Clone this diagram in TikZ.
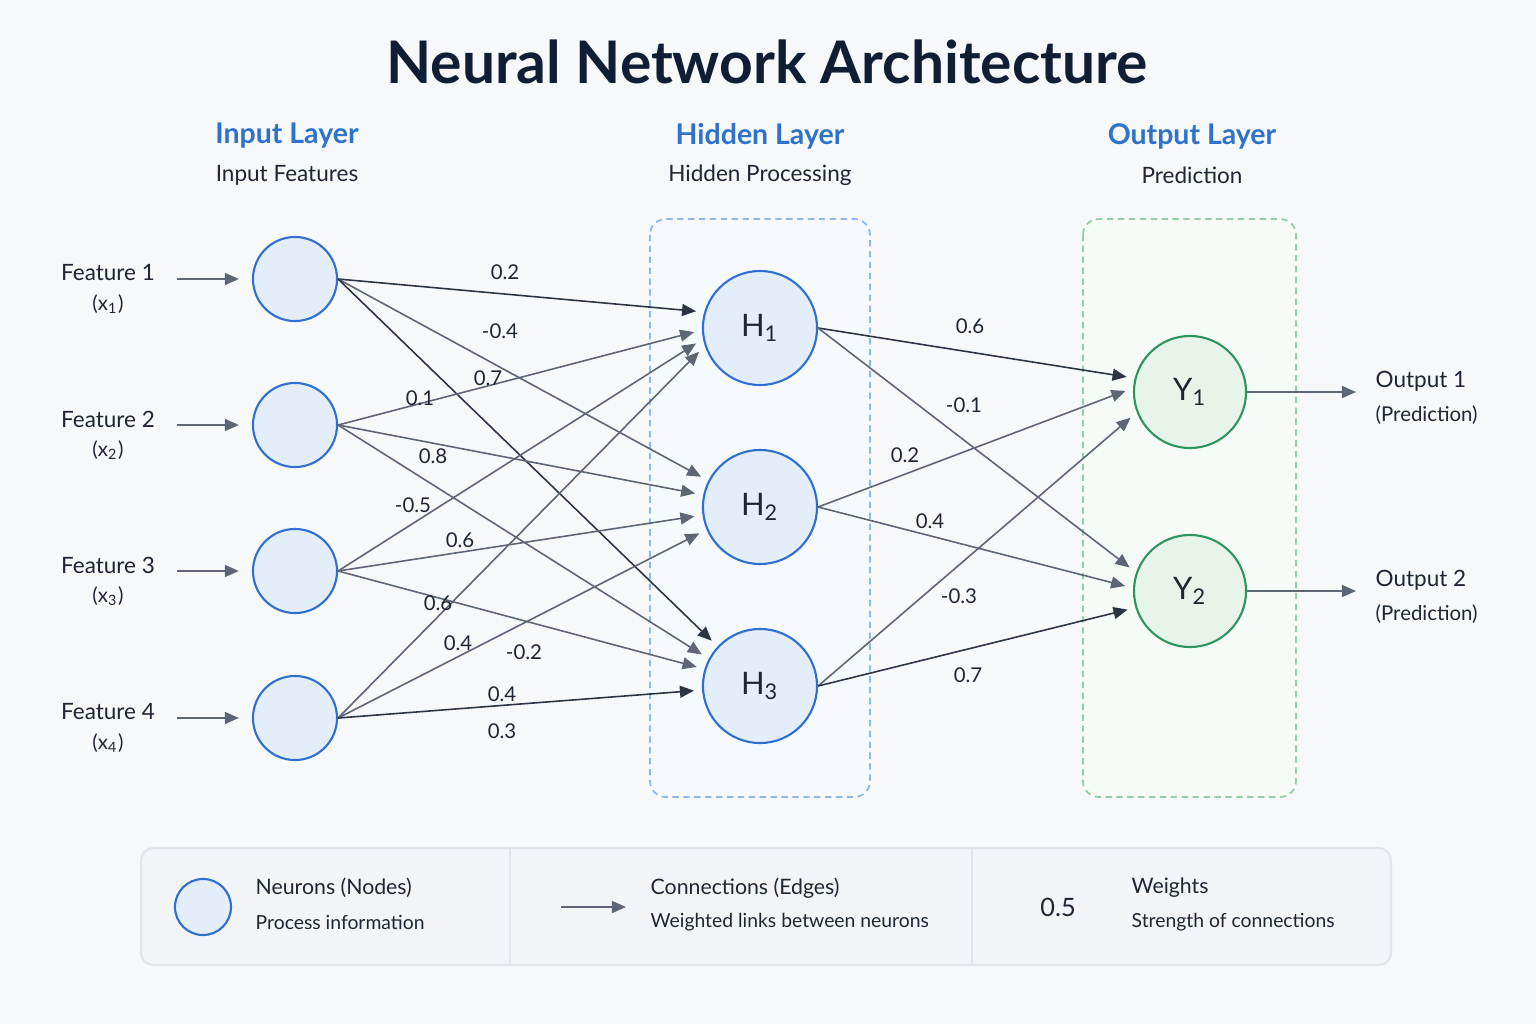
\documentclass[tikz,border=0pt]{standalone}
\usepackage{fontspec}
\setsansfont{Lato}
\usepackage{xcolor}
\usepackage{tikz}
\usetikzlibrary{arrows.meta, positioning, calc}
\definecolor{nnbg}{HTML}{F6F8FA}
\definecolor{nntitle}{HTML}{0F1D35}
\definecolor{nnhead}{HTML}{2E72CC}
\definecolor{nntext}{HTML}{1F2633}
\definecolor{nnblue}{HTML}{2F6FD0}
\definecolor{nnbluefill}{HTML}{E4EEFB}
\definecolor{nngreen}{HTML}{2E9460}
\definecolor{nngreenfill}{HTML}{E6F4EA}
\definecolor{nnhidbox}{HTML}{8DB9EA}
\definecolor{nnoutbox}{HTML}{92CFA8}
\definecolor{nnedge}{HTML}{5E6574}
\definecolor{nnedgedark}{HTML}{2C3444}
\definecolor{nnlegend}{HTML}{F2F4F7}
\definecolor{nnlegendline}{HTML}{E1E4E9}

\tikzset{
  inneuron/.style={circle, draw=nnblue, fill=nnbluefill, line width=0.6pt,
    minimum size=0.84cm},
  hidneuron/.style={circle, draw=nnblue, fill=nnbluefill, line width=0.6pt,
    minimum size=1.14cm, font=\fontsize{8.8}{10}\selectfont\sffamily, text=nntext},
  outneuron/.style={circle, draw=nngreen, fill=nngreenfill, line width=0.6pt,
    minimum size=1.12cm, font=\fontsize{8.8}{10}\selectfont\sffamily, text=nntext},
  wire/.style={-{Triangle[length=4pt,width=3.4pt]}, line width=0.45pt,
    draw=nnedge, shorten >=2.3pt},
  wiredark/.style={wire, draw=nnedgedark},
  feed/.style={-{Triangle[length=4pt,width=3.4pt]}, line width=0.5pt, draw=nnedge},
  wlabel/.style={font=\fontsize{5.8}{7}\selectfont\sffamily, text=nntext},
  featlabel/.style={font=\fontsize{6.4}{8}\selectfont\sffamily, text=nntext},
  sublabel/.style={font=\fontsize{5.8}{7}\selectfont\sffamily, text=nntext},
  keylabel/.style={font=\fontsize{6.05}{8}\selectfont\sffamily, text=nntext, anchor=west},
  keysub/.style={font=\fontsize{5.5}{7}\selectfont\sffamily, text=nntext, anchor=west},
  layerhead/.style={font=\fontsize{8.1}{10}\selectfont\sffamily\bfseries, text=nnhead},
  layersub/.style={font=\fontsize{6.4}{8}\selectfont\sffamily, text=nntext},
}

\begin{document}
\begin{tikzpicture}[x=0.01cm, y=-0.01cm, font=\sffamily, every node/.style={inner sep=0pt}]
  \useasboundingbox (0,0) rectangle (1536,1024);
  \fill[nnbg] (0,0) rectangle (1536,1024);

  % title and layer headings
  \node[font=\fontsize{16.7}{19}\selectfont\sffamily\bfseries, text=nntitle] (title) at (767,62)
       {Neural Network Architecture};
  \foreach \xx/\head/\sub [count=\k] in {287/Input Layer/Input Features,
      760/Hidden Layer/Hidden Processing,
      1192/Output Layer/Prediction}
  {
    \node[layerhead] (head\k) at (\xx,136) {\head};
    \node[layersub] (sub\k) at (\xx,175) {\sub};
  }

  % layer boxes
  \draw[draw=nnhidbox, fill=nnbluefill!35, line width=0.5pt, dash pattern=on 1.8pt off 1.3pt,
        rounded corners=4.5pt] (650,219) rectangle (870,797);
  \draw[draw=nnoutbox, fill=nngreenfill!35, line width=0.5pt, dash pattern=on 1.8pt off 1.3pt,
        rounded corners=4.5pt] (1083,219) rectangle (1296,797);

  % input layer
  \foreach \i/\yy in {1/279,2/425,3/571,4/718}
  {
    \node[inneuron] (I\i) at (295,\yy) {};
    \node[featlabel] (F\i) at (108,\yy-6) {Feature \i};
    \node[sublabel] (X\i) at (108,\yy+25) {(x\textsubscript{\i})};
    \coordinate (A\i) at (177,\yy);
    \draw[feed, shorten >=3.7pt] (A\i) -- (I\i.west);
  }

  % hidden and output layers
  \foreach \i/\yy in {1/328,2/507,3/686}
    \node[hidneuron] (H\i) at (760,\yy) {H\textsubscript{\i}};
  \foreach \i/\yy in {1/392,2/591}
  {
    \node[outneuron] (Y\i) at (1190,\yy) {Y\textsubscript{\i}};
    \coordinate (O\i) at (1356,\yy);
    \draw[feed] (Y\i.east) -- (O\i);
    \node[featlabel, anchor=west] (OL\i) at (1375,\yy-11) {Output \i};
    \node[sublabel, anchor=west] (OP\i) at (1375,\yy+23) {(Prediction)};
  }

  % connections input -> hidden
  \foreach \s/\d/\ang/\sty in {1/1/164/wiredark, 1/2/153/wire, 1/3/137/wiredark,
      2/1/182/wire, 2/2/168/wire, 2/3/152/wire,
      3/1/191/wire, 3/2/188/wire, 3/3/163/wire,
      4/1/198/wire, 4/2/203/wire, 4/3/184/wiredark}
    \draw[\sty] (I\s.east) -- (H\d.\ang);

  % connections hidden -> output
  \foreach \s/\d/\ang/\sty in {1/1/166/wiredark, 1/2/161/wire,
      2/1/176/wire, 2/2/177/wire,
      3/1/201/wire, 3/2/197/wiredark}
    \draw[\sty] (H\s.east) -- (Y\d.\ang);

  % weights
  \foreach \xx/\yy/\w [count=\k] in {505/272/0.2, 500/331/-0.4, 488/378/0.7,
      420/398/0.1, 433/456/0.8, 413/505/-0.5, 460/540/0.6, 438/603/0.6,
      458/643/0.4, 524/652/-0.2, 502/694/0.4, 502/731/0.3,
      970/326/0.6, 964/405/-0.1, 905/455/0.2, 930/521/0.4,
      959/596/-0.3, 968/675/0.7}
    \node[wlabel] (w\k) at (\xx,\yy) {\w};

  % legend
  \draw[fill=nnlegend, draw=nnlegendline, line width=0.6pt, rounded corners=3.5pt]
       (141,848) rectangle (1391,965);
  \draw[nnlegendline, line width=0.6pt] (510,848) -- (510,965);
  \draw[nnlegendline, line width=0.6pt] (972,848) -- (972,965);
  \node[inneuron, minimum size=0.56cm] (LN) at (203,907) {};
  \node[keylabel] (LN1) at (255,888) {Neurons (Nodes)};
  \node[keysub] (LN2) at (255,922) {Process information};
  \coordinate (LA) at (561,907);
  \coordinate (LB) at (626,907);
  \draw[feed] (LA) -- (LB);
  \node[keylabel] (LC1) at (650,888) {Connections (Edges)};
  \node[keysub] (LC2) at (650,922) {Weighted links between neurons};
  \node[font=\fontsize{7.2}{9}\selectfont\sffamily, text=nntext] (LW) at (1058,907) {0.5};
  \node[keylabel] (LW1) at (1131,888) {Weights};
  \node[keysub] (LW2) at (1131,922) {Strength of connections};
\end{tikzpicture}
\end{document}
